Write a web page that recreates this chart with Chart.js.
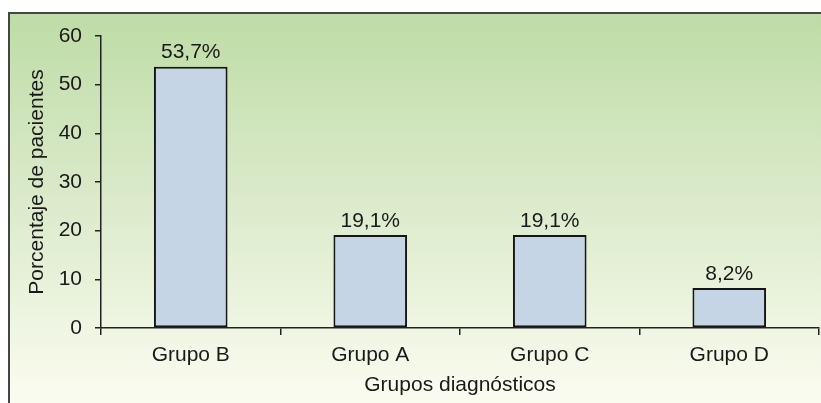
<!DOCTYPE html>
<html>
<head>
<meta charset="utf-8">
<script src="https://cdn.jsdelivr.net/npm/chart.js@4/dist/chart.umd.min.js"></script>
<style>
  body { margin: 0; background: #fff; }
  canvas { display: block; }
</style>
</head>
<body>
<canvas id="diagChart" width="821" height="403"></canvas>
<script>
const categories = ['Grupo B', 'Grupo A', 'Grupo C', 'Grupo D'];
const percentValues = [53.7, 19.1, 19.1, 8.2];
const percentLabels = ['53,7%', '19,1%', '19,1%', '8,2%'];
const yTicks = [0, 10, 20, 30, 40, 50, 60];

const fontFamily = "'Liberation Sans', Arial, sans-serif";
const fontSize = 21;
const inkColor = '#1a1a1a';

// green panel with a dark frame on top and left
const panelBackground = {
    id: 'panelBackground',
    beforeDraw(chart) {
        const ctx = chart.ctx;
        const w = chart.width, h = chart.height;
        ctx.save();
        const grad = ctx.createLinearGradient(0, 13, 0, h);
        grad.addColorStop(0, '#bedca6');
        grad.addColorStop(0.5, '#dcebcc');
        grad.addColorStop(1, '#fbfcf0');
        ctx.fillStyle = grad;
        ctx.fillRect(9, 13, w - 9, h - 13);
        ctx.strokeStyle = '#454545';
        ctx.lineWidth = 2;
        ctx.beginPath();
        ctx.moveTo(9, h);
        ctx.lineTo(9, 13);
        ctx.lineTo(w, 13);
        ctx.stroke();
        ctx.restore();
    }
};

// percentage text above each bar
const barLabels = {
    id: 'barLabels',
    afterDatasetsDraw(chart) {
        const ctx = chart.ctx;
        const meta = chart.getDatasetMeta(0);
        ctx.save();
        ctx.font = fontSize + 'px ' + fontFamily;
        ctx.fillStyle = inkColor;
        ctx.textAlign = 'center';
        ctx.textBaseline = 'alphabetic';
        meta.data.forEach((bar, i) => {
            ctx.fillText(percentLabels[i], bar.x, bar.y - 8.5);
        });
        ctx.restore();
    }
};

new Chart(document.getElementById('diagChart').getContext('2d'), {
    type: 'bar',
    data: {
        labels: categories,
        datasets: [{
            data: percentValues,
            backgroundColor: '#c5d5e6',
            borderColor: '#151515',
            borderWidth: 2,
            borderSkipped: false,
            barPercentage: 0.41,
            categoryPercentage: 1
        }]
    },
    options: {
        responsive: false,
        animation: false,
        layout: { padding: { left: 0, top: 36, right: 2, bottom: 0 } },
        plugins: {
            legend: { display: false },
            tooltip: { enabled: false }
        },
        scales: {
            x: {
                afterFit(scale) { scale.height = 75; },
                grid: {
                    drawOnChartArea: false,
                    color: '#222',
                    lineWidth: 1.5,
                    tickLength: 7
                },
                border: { color: '#222', width: 1.5 },
                ticks: {
                    color: inkColor,
                    padding: 8,
                    font: { size: fontSize, family: fontFamily }
                },
                title: {
                    display: true,
                    text: 'Grupos diagnósticos',
                    color: inkColor,
                    padding: { top: 0, bottom: 5.5 },
                    font: { size: fontSize, family: fontFamily }
                }
            },
            y: {
                min: 0,
                max: 60,
                afterFit(scale) { scale.width = 101; },
                afterBuildTicks(scale) { scale.ticks = yTicks.map(v => ({ value: v })); },
                grid: {
                    drawOnChartArea: false,
                    color: '#222',
                    lineWidth: 1.5,
                    tickLength: 6
                },
                border: { color: '#222', width: 1.5 },
                ticks: {
                    color: inkColor,
                    padding: 13,
                    font: { size: fontSize, family: fontFamily }
                },
                title: {
                    display: true,
                    text: 'Porcentaje de pacientes',
                    color: inkColor,
                    padding: { top: 25, bottom: 0 },
                    font: { size: fontSize, family: fontFamily }
                }
            }
        }
    },
    plugins: [panelBackground, barLabels]
});
</script>
</body>
</html>
